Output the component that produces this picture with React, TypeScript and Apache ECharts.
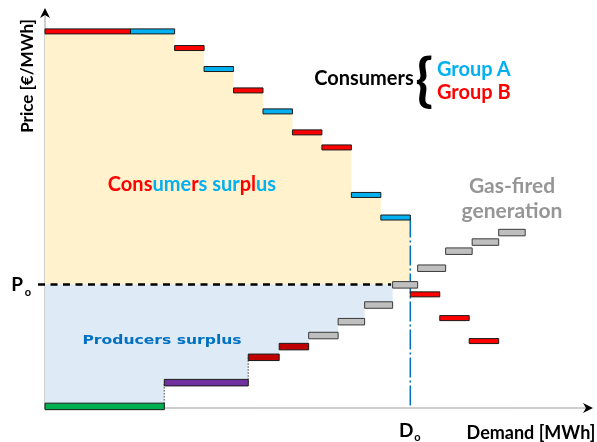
import React, { useEffect, useRef } from "react";
import * as echarts from "echarts";

// Demand bids (consumers): quantity steps [MWh] and bid price [€/MWh]
const demandStart = [0, 29, 44, 54, 64, 74, 84, 94, 104, 114, 124, 134, 144];
const demandEnd = [29, 44, 54, 64, 74, 84, 94, 104, 114, 124, 134, 144, 154];
const demandPrice = [95.1, 95.1, 90.9, 85.6, 80.2, 74.9, 69.6, 65.8, 53.8, 48.1, 28.7, 22.7, 16.9];
const demandGroup = ["B", "A", "B", "A", "B", "A", "B", "B", "A", "A", "B", "B", "B"];

// Supply offers (generators)
const supplyStart = [0, 40.5, 69, 79.5, 89.5, 99.5, 108.5, 118, 126.5, 136, 145, 154];
const supplyEnd = [40.5, 69, 79.5, 89.5, 99.5, 108.5, 118, 126.5, 136, 145, 154, 163];
const supplyPrice = [0.4, 6.4, 12.8, 15.5, 18.3, 21.8, 26.0, 31.1, 35.3, 39.6, 41.9, 44.3];
const supplyTech = ["green", "purple", "darkred", "darkred", "gas", "gas", "gas", "gas", "gas", "gas", "gas", "gas"];

// Market equilibrium
const P0 = 31.2;
const D0 = 124;
const P0LineEnd = 117.5;
const demandCleared = 10; // bars left of D0
const supplyCleared = 7; // bars left of the producers surplus edge

// "Consumers surplus" title pieces and colours
const surplusPieces = ["Cons", "ume", "r", "s sur", "pl", "us"];
const surplusColors = ["#FF0000", "#00B0F0", "#FF0000", "#00B0F0", "#FF0000", "#00B0F0"];

const groupColor: Record<string, string> = { A: "#00B0F0", B: "#FF0000" };
const techColor: Record<string, string> = {
  green: "#00B050",
  purple: "#7030A0",
  darkred: "#C00000",
  gas: "#BFBFBF",
};

const FONT = "Lato, 'Open Sans', sans-serif";

export default function App() {
  const ref = useRef<HTMLDivElement>(null);

  useEffect(() => {
    if (!ref.current) return;
    const chart = echarts.init(ref.current, undefined, { renderer: "svg" });

    const consumerFill = (params: any, api: any) => {
      const pts: number[][] = [];
      pts.push(api.coord([0, P0]));
      pts.push(api.coord([0, demandPrice[0]]));
      for (let i = 0; i < demandCleared; i++) {
        pts.push(api.coord([demandEnd[i], demandPrice[i]]));
        if (i + 1 < demandCleared) pts.push(api.coord([demandEnd[i], demandPrice[i + 1]]));
      }
      pts.push(api.coord([D0, P0]));
      return { type: "polygon", shape: { points: pts }, style: { fill: "#FFF2CC" } };
    };

    const producerFill = (params: any, api: any) => {
      const pts: number[][] = [];
      pts.push(api.coord([0, P0]));
      pts.push(api.coord([supplyEnd[supplyCleared - 1], P0]));
      for (let i = supplyCleared - 1; i >= 0; i--) {
        pts.push(api.coord([supplyEnd[i], supplyPrice[i]]));
        pts.push(api.coord([supplyStart[i], supplyPrice[i]]));
      }
      return { type: "polygon", shape: { points: pts }, style: { fill: "#DEEAF6" } };
    };

    const connectors = (params: any, api: any) => {
      const children: any[] = [];
      for (let i = 1; i <= 2; i++) {
        const a = api.coord([supplyStart[i], supplyPrice[i - 1]]);
        const b = api.coord([supplyStart[i], supplyPrice[i]]);
        children.push({
          type: "line",
          shape: { x1: a[0], y1: a[1], x2: b[0], y2: b[1] },
          style: { stroke: "#7F7F7F", lineWidth: 1.5, lineDash: [1.5, 1.5] },
        });
      }
      return { type: "group", children };
    };

    const priceLine = (params: any, api: any) => {
      const a = api.coord([0, P0]);
      const b = api.coord([P0LineEnd, P0]);
      return {
        type: "line",
        shape: { x1: a[0] - 7, y1: a[1], x2: b[0], y2: b[1] },
        style: { stroke: "#000", lineWidth: 2.5, lineDash: [7, 5.5] },
      };
    };

    const demandLine = (params: any, api: any) => {
      const a = api.coord([D0, demandPrice[demandCleared - 1]]);
      const b = api.coord([D0, 0]);
      return {
        type: "line",
        shape: { x1: a[0], y1: a[1], x2: b[0], y2: b[1] },
        style: { stroke: "#0070C0", lineWidth: 1.5, lineDash: [20, 3, 2, 3] },
      };
    };

    const barItem = (h: number, colorOf: (i: number) => string, stroke: (i: number) => string) =>
      (params: any, api: any) => {
        const i = params.dataIndex;
        const a = api.coord([api.value(0), api.value(2)]);
        const b = api.coord([api.value(1), api.value(2)]);
        return {
          type: "rect",
          shape: { x: a[0], y: a[1] - h / 2, width: b[0] - a[0], height: h },
          style: { fill: colorOf(i), stroke: stroke(i), lineWidth: 1 },
        };
      };

    const demandData = demandStart.map((s, i) => [s, demandEnd[i], demandPrice[i]]);
    const supplyData = supplyStart.map((s, i) => [s, supplyEnd[i], supplyPrice[i]]);

    const axisCommon = {
      type: "value" as const,
      axisLine: { show: true, lineStyle: { color: "#BFBFBF", width: 1.5 } },
      axisTick: { show: false },
      axisLabel: { show: false },
      splitLine: { show: false },
    };

    chart.setOption({
      animation: false,
      grid: { left: 45, right: 7, top: 12, bottom: 34 },
      xAxis: { ...axisCommon, min: 0, max: 185 },
      yAxis: { ...axisCommon, min: 0, max: 100 },
      series: [
        { type: "custom", z: 1, data: [[0, P0]], renderItem: consumerFill, clip: false, silent: true },
        { type: "custom", z: 1, data: [[0, P0]], renderItem: producerFill, clip: false, silent: true },
        { type: "custom", data: [[0, P0]], renderItem: connectors, clip: false, silent: true },
        { type: "custom", data: [[0, P0]], renderItem: priceLine, clip: false, silent: true },
        { type: "custom", data: [[D0, 0]], renderItem: demandLine, clip: false, silent: true },
        {
          type: "custom",
          data: demandData,
          encode: { x: [0, 1], y: 2 },
          clip: false,
          renderItem: barItem(5, (i) => groupColor[demandGroup[i]], () => "#1a1a1a"),
        },
        {
          type: "custom",
          data: supplyData,
          encode: { x: [0, 1], y: 2 },
          clip: false,
          renderItem: barItem(6.5, (i) => techColor[supplyTech[i]], (i) => (supplyTech[i] === "gas" ? "#3a3a3a" : "#1a1a1a")),
        },
      ],
    });

    const p0 = chart.convertToPixel({ gridIndex: 0 }, [0, P0]) as number[];
    const d0 = chart.convertToPixel({ gridIndex: 0 }, [D0, 0]) as number[];
    const origin = chart.convertToPixel({ gridIndex: 0 }, [0, 0]) as number[];
    const top = chart.convertToPixel({ gridIndex: 0 }, [0, 100]) as number[];
    const right = chart.convertToPixel({ gridIndex: 0 }, [185, 0]) as number[];

    const txt = (text: string, x: number, y: number, size: number, fill: string, align = "center", extra: any = {}) => ({
      type: "text",
      x,
      y,
      z: 100,
      ...extra,
      style: {
        text,
        x: 0,
        y: 0,
        fill,
        font: `bold ${size}px ${FONT}`,
        align,
        verticalAlign: "middle",
        textAlign: align,
        textVerticalAlign: "middle",
        ...(extra.style || {}),
      },
    });

    // multi-coloured "Consumers surplus" built from measured pieces
    const surplusFont = `bold 20px ${FONT}`;
    const canvas = document.createElement("canvas");
    const ctx = canvas.getContext("2d")!;
    ctx.font = surplusFont;
    const widths = surplusPieces.map((p) => ctx.measureText(p).width || p.length * 10);
    const total = widths.reduce((a, b) => a + b, 0);
    let cx = 192 - total / 2;
    const surplusTexts = surplusPieces.map((p, i) => {
      const el = txt(p, cx, 183, 20, surplusColors[i], "left");
      cx += widths[i];
      return el;
    });

    chart.setOption({
      graphic: {
        z: 100,
        elements: [
          // axis arrows
          {
            type: "polygon",
            z: 100,
            shape: { points: [[origin[0], top[1] - 4], [origin[0] - 5, top[1] + 6], [origin[0], top[1] + 3], [origin[0] + 5, top[1] + 6]] },
            style: { fill: "#000" },
          },
          {
            type: "polygon",
            z: 100,
            shape: { points: [[right[0] + 3, origin[1]], [right[0] - 7, origin[1] - 5], [right[0] - 4, origin[1]], [right[0] - 7, origin[1] + 5]] },
            style: { fill: "#000" },
          },
          txt("Price [€/MWh]", 26, 76, 17, "#000", "center", { rotation: Math.PI / 2 }),
          txt("P", p0[0] - 28, p0[1] - 1, 19, "#000"),
          txt("o", p0[0] - 17, p0[1] + 7, 11, "#000"),
          txt("D", d0[0] - 4, 429, 19, "#000"),
          txt("o", d0[0] + 7, 436, 11, "#000"),
          txt("Demand [MWh]", 531, 432, 18, "#000"),
          txt("Consumers", 364, 77, 20, "#000"),
          txt("{", 424, 77, 58, "#000", "center", { style: { font: `bold 58px ${FONT}` } }),
          txt("Group A", 437, 68, 20, "#00B0F0", "left"),
          txt("Group B", 437, 91, 20, "#FF0000", "left"),
          ...surplusTexts,
          txt("Gas-fired", 512, 184, 21, "#969696"),
          txt("generation", 512, 209, 21, "#969696"),
          txt("Producers surplus", 162, 339, 13, "#0070C0", "center", {
            scaleX: 1.2,
            style: { font: `bold 13px 'DejaVu Sans', sans-serif` },
          }),
        ],
      },
    });

    return () => chart.dispose();
  }, []);

  return <div ref={ref} style={{ position: "fixed", left: 0, top: 0, width: 597, height: 442 }} />;
}
